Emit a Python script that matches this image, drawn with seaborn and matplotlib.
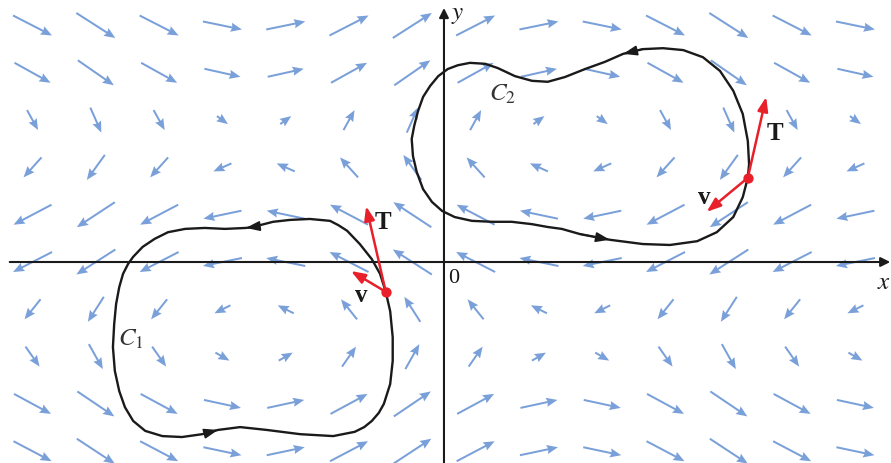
import numpy as np
import pandas as pd
import matplotlib
matplotlib.use('Agg')
import matplotlib.pyplot as plt
import seaborn as sns

# =============================================================================
# Data
# =============================================================================
# grid of the vector field
col_x = [-6.5, -5.5, -4.5, -3.5, -2.5, -1.5, -0.5, 0.5, 1.5, 2.5, 3.5, 4.5, 5.5, 6.5]
row_y = [5, 4, 3, 2, 1, 0, -1, -2, -3, -4]

# horizontal component per row (top to bottom) and vertical component per column
u_row = [39, 36, 11, -18, -38, -39, -16, 14, 37, 38]
v_col = [-20, -25, -20, -8, 8, 20, 25, 20, 8, -8, -20, -25, -20, -8]

# curve C1 (counter clockwise, starting at the red point)
c1_x = [-0.92, -1.01, -1.14, -1.33, -1.53, -1.67, -1.80, -2.12, -2.43, -2.70,
        -3.02, -3.13, -3.46, -3.78, -4.09, -4.36, -4.57, -4.76, -4.91, -4.99,
        -5.07, -5.13, -5.18, -5.21, -5.23, -5.20, -5.13, -5.04, -4.91, -4.72,
        -4.45, -4.14, -3.82, -3.57, -3.22, -2.80, -2.27, -1.75, -1.41, -1.26,
        -1.14, -1.03, -0.95, -0.85, -0.81, -0.81, -0.85]
c1_y = [-0.63, -0.25, 0.06, 0.38, 0.66, 0.78, 0.87, 0.91, 0.89, 0.85,
        0.74, 0.72, 0.70, 0.72, 0.70, 0.63, 0.49, 0.32, 0.11, -0.04,
        -0.25, -0.53, -0.89, -1.31, -1.80, -2.30, -2.73, -3.07, -3.36, -3.57,
        -3.68, -3.70, -3.64, -3.55, -3.49, -3.55, -3.64, -3.68, -3.59, -3.49,
        -3.36, -3.19, -3.00, -2.58, -2.09, -1.59, -1.04]

# curve C2 (counter clockwise, starting at the red point)
c2_x = [4.80, 4.82, 4.80, 4.72, 4.57, 4.36, 4.09, 3.78, 3.46, 3.14,
        2.83, 2.54, 2.23, 1.91, 1.64, 1.39, 1.12, 0.85, 0.65, 0.41,
        0.22, 0.06, -0.09, -0.22, -0.33, -0.41, -0.47, -0.51, -0.49, -0.43,
        -0.33, -0.19, -0.03, 0.17, 0.44, 0.76, 1.07, 1.39, 1.64, 1.86,
        2.15, 2.62, 3.14, 3.57, 4.00, 4.31, 4.57, 4.72]
c2_y = [1.78, 2.07, 2.56, 3.13, 3.62, 4.04, 4.33, 4.48, 4.52, 4.50,
        4.40, 4.23, 4.08, 3.91, 3.81, 3.83, 3.93, 4.10, 4.19, 4.21,
        4.16, 4.08, 3.93, 3.72, 3.49, 3.19, 2.88, 2.60, 2.24, 1.90,
        1.54, 1.27, 1.08, 0.95, 0.87, 0.85, 0.85, 0.80, 0.74, 0.70,
        0.59, 0.47, 0.38, 0.36, 0.44, 0.63, 0.95, 1.37]

# direction arrows on the curves (index of the arrow tip)
c1_arrow_idx = [11, 33]
c2_arrow_idx = [10, 41]

# tips of the tangent T and field v vectors at the red points
t_tip_x = [-1.23, 5.09]
t_tip_y = [1.18, 3.49]
v_tip_x = [-1.47, 4.15]
v_tip_y = [-0.19, 1.06]

# =============================================================================
# Figure
# =============================================================================
sns.set_style('white')
plt.rcParams['font.family'] = ['Liberation Serif', 'DejaVu Serif']
plt.rcParams['mathtext.fontset'] = 'stix'

fig = plt.figure(figsize=(8.91, 4.64), dpi=100)
ax = fig.add_axes([0, 0, 1, 1])
ax.set_xlim(-7.014, 7.062)
ax.set_ylim(-4.249, 5.560)
ax.set_axis_off()

# vector field
X, Y = np.meshgrid(col_x, row_y)
V, U = np.meshgrid(v_col, u_row)
ax.quiver(X, Y, U, V, angles='uv', scale_units='dots', scale=1, units='dots',
          width=2.0, headwidth=4.6, headlength=5.6, headaxislength=5.0,
          pivot='middle', color='#7aa0d9', zorder=1)

# axes with arrows
axis_kw = dict(arrowstyle='-|>', color='#1a1a1a', lw=1.5, mutation_scale=14,
               shrinkA=0, shrinkB=0)
ax.annotate('', xy=(7.05, 0), xytext=(-6.86, 0), arrowprops=axis_kw, zorder=2)
ax.annotate('', xy=(0, 5.37), xytext=(0, -4.3), arrowprops=axis_kw, zorder=2)

# curves
curves = pd.concat([
    pd.DataFrame({'x': c1_x + c1_x[:1], 'y': c1_y + c1_y[:1], 'curve': 'C1'}),
    pd.DataFrame({'x': c2_x + c2_x[:1], 'y': c2_y + c2_y[:1], 'curve': 'C2'}),
])
sns.lineplot(data=curves, x='x', y='y', units='curve', estimator=None,
             sort=False, color='#1a1a1a', lw=1.7, ax=ax, zorder=3,
             solid_joinstyle='round', solid_capstyle='round')

for cx, cy, idx in [(c1_x, c1_y, c1_arrow_idx), (c2_x, c2_y, c2_arrow_idx)]:
    for i in idx:
        ax.annotate('', xy=(cx[i], cy[i]), xytext=(cx[i - 1], cy[i - 1]),
                    arrowprops=dict(arrowstyle='-|>,head_length=0.7,head_width=0.25',
                                    color='#1a1a1a', lw=1.2, mutation_scale=12,
                                    shrinkA=0, shrinkB=0), zorder=3)

# red points with T and v
red = '#e8202a'
for k, (cx, cy) in enumerate([(c1_x, c1_y), (c2_x, c2_y)]):
    for tx, ty in [(t_tip_x[k], t_tip_y[k]), (v_tip_x[k], v_tip_y[k])]:
        ax.annotate('', xy=(tx, ty), xytext=(cx[0], cy[0]),
                    arrowprops=dict(arrowstyle='-|>,head_length=0.6,head_width=0.22',
                                    color=red, lw=1.8, mutation_scale=14,
                                    shrinkA=0, shrinkB=0), zorder=4)
    ax.scatter([cx[0]], [cy[0]], s=55, color=red, zorder=5, linewidths=0)

# labels
lab_kw = dict(fontsize=18, fontweight='bold', color='#1a1a1a', ha='center', va='center')
ax.text(-0.96, 0.86, 'T', **lab_kw)
ax.text(-1.30, -0.68, 'v', **lab_kw)
ax.text(5.23, 2.74, 'T', **lab_kw)
ax.text(4.11, 1.38, 'v', **lab_kw)

ax.text(-4.94, -1.61, r'$C_1$', fontsize=18, color='#333333', ha='center', va='center')
ax.text(0.93, 3.57, r'$C_2$', fontsize=18, color='#333333', ha='center', va='center')

ax.text(0.15, -0.32, '0', fontsize=16, color='#1a1a1a', ha='center', va='center')
ax.text(6.95, -0.42, '$x$', fontsize=18, color='#1a1a1a', ha='center', va='center')
ax.text(0.22, 5.25, '$y$', fontsize=18, color='#1a1a1a', ha='center', va='center')

fig.savefig('out.png', dpi=100)
